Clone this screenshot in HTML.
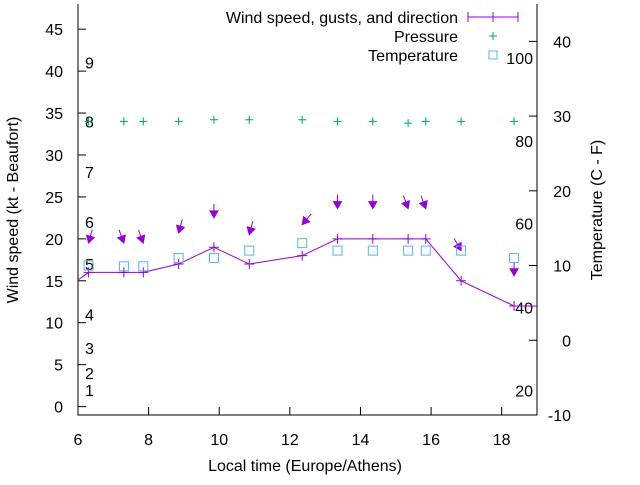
<!DOCTYPE html>
<html><head><meta charset="utf-8"><style>
body{margin:0;background:#fff}
svg{font-family:"Liberation Sans",sans-serif;font-size:16px}
</style></head><body>
<svg id="c" width="640" height="480" viewBox="0 0 640 480"></svg>
<script>
const times=[6.3,7.3,7.85,8.85,9.85,10.85,12.35,13.35,14.35,15.35,15.85,16.85,18.35];
const windLine=[[5.8,14.5],[6.3,16],[7.3,16],[7.85,16],[8.85,17],[9.85,19],[10.85,17],[12.35,18],[13.35,20],[14.35,20],[15.35,20],[15.85,20],[16.85,15],[18.35,12],[19.5,12]];
const gusts=[19.5,19.5,19.5,20.7,22.5,20.5,21.7,23.6,23.6,23.6,23.6,18.6,15.6];
const dirs=[15,340,340,15,0,15,40,0,0,340,340,330,0];
const pressure=[34,34,34,34,34.2,34.2,34.2,34,34,33.8,34,34,34];
const temps=[10,9.9,9.9,11,11,12,13,12,12,12,12,12,11];
const leftTicks=[0,5,10,15,20,25,30,35,40,45];
const rightTicks=[-10,0,10,20,30,40];
const xTicks=[6,8,10,12,14,16,18];
const beaufort=[[1,2],[2,4],[3,7],[4,11],[5,17],[6,22],[7,28],[8,34],[9,41]];
const fahr=[[20,-6.7],[40,4.4],[60,15.6],[80,26.7],[100,37.8]];
const L=78,R=537,T=4,B=415;
const X=v=>L+(v-6)/(19-6)*(R-L);
const Y=v=>B-(v+1)/(48+1)*(B-T);
const Y2=v=>B-(v+10)/(45+10)*(B-T);
const svg=document.getElementById('c');const NS='http://www.w3.org/2000/svg';
function el(t,a,txt){const e=document.createElementNS(NS,t);for(const k in a)e.setAttribute(k,a[k]);if(txt!==undefined)e.textContent=txt;svg.appendChild(e);return e;}
const defs=el('defs',{});const cp=document.createElementNS(NS,'clipPath');cp.setAttribute('id','clip');const cr=document.createElementNS(NS,'rect');cr.setAttribute('x',L);cr.setAttribute('y',T);cr.setAttribute('width',R-L);cr.setAttribute('height',B-T);cp.appendChild(cr);defs.appendChild(cp);
let e=el('path',{d:`M${L} ${T}V${B}H${R}V${T}`,fill:'none',stroke:'#000','stroke-width':1});

leftTicks.forEach(v=>{el('line',{x1:L,x2:L+8,y1:Y(v),y2:Y(v),stroke:'#000'});
 e=el('text',{x:L-15,y:Y(v)+6,'text-anchor':'end'},v);});
rightTicks.forEach(v=>{el('line',{x1:R-8,x2:R,y1:Y2(v),y2:Y2(v),stroke:'#000'});
 e=el('text',{x:R+34,y:Y2(v)+6,'text-anchor':'end'},v);});
xTicks.forEach(v=>{el('line',{x1:X(v),x2:X(v),y1:B,y2:B-8,stroke:'#000'});
 e=el('text',{x:X(v),y:B+30,'text-anchor':'middle'},v);});
e=el('text',{x:305,y:471,'text-anchor':'middle'},'Local time (Europe/Athens)');
e=el('text',{x:18,y:210,'text-anchor':'middle',transform:'rotate(-90 18 210)'},'Wind speed (kt - Beaufort)');
e=el('text',{x:602,y:210,'text-anchor':'middle',transform:'rotate(-90 602 210)'},'Temperature (C - F)');
beaufort.forEach(b=>{e=el('text',{x:85,y:Y(b[1])+6},b[0]);});
fahr.forEach(f=>{e=el('text',{x:533,y:Y2(f[1])+6,'text-anchor':'end'},f[0]);});
const g=el('g',{'clip-path':'url(#clip)'});
function add(t,a){const n=document.createElementNS(NS,t);for(const k in a)n.setAttribute(k,a[k]);g.appendChild(n);return n;}
e=add('polyline',{points:windLine.map(p=>X(p[0])+','+Y(p[1])).join(' '),fill:'none',stroke:'#9400d3','stroke-width':1});

windLine.forEach(p=>{const x=X(p[0]),y=Y(p[1]);e=add('path',{d:`M${x-5} ${y}h10M${x} ${y-5}v10`,stroke:'#9400d3'});});
times.forEach((t,i)=>{const x=X(t),y=Y(gusts[i]);const a=dirs[i]*Math.PI/180,len=14;
 const tx=x+Math.sin(a)*len,ty=y-Math.cos(a)*len;const ux=(x-tx)/len,uy=(y-ty)/len;
 const hx=x-ux*7,hy=y-uy*7;const px=-uy*4,py=ux*4;
 e=add('path',{d:`M${tx} ${ty}L${x} ${y}M${x} ${y}L${hx+px} ${hy+py}L${hx-px} ${hy-py}Z`,stroke:'#9400d3',fill:'#9400d3'});
 
 const x2=X(t),y2=Y(pressure[i]);e=add('path',{d:`M${x2-4} ${y2}h8M${x2} ${y2-4}v8`,stroke:'#009e73'});
 e=add('rect',{x:X(t)-4.5,y:Y2(temps[i])-4.5,width:9,height:9,fill:'none',stroke:'#56b4e9'});
});
e=el('text',{x:458,y:23,'text-anchor':'end'},'Wind speed, gusts, and direction');
el('path',{d:'M468 17H518M468 12v10M518 12v10M493 12v10',stroke:'#9400d3'});
e=el('text',{x:458,y:42,'text-anchor':'end'},'Pressure');
el('path',{d:'M489 36h8M493 32v8',stroke:'#009e73'});
e=el('text',{x:458,y:61,'text-anchor':'end'},'Temperature');
el('rect',{x:489,y:51,width:8,height:8,fill:'none',stroke:'#56b4e9'});
</script>
</body></html>
